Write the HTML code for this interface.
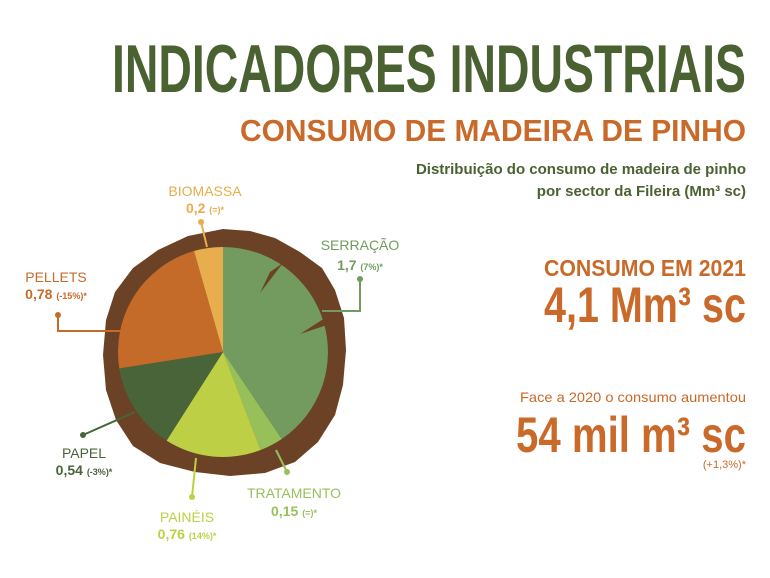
<!DOCTYPE html>
<html><head><meta charset="utf-8"><style>html,body{margin:0;padding:0;background:#fff}svg{display:block}</style></head>
<body>
<svg width="770" height="578" viewBox="0 0 770 578" xmlns="http://www.w3.org/2000/svg" font-family="Liberation Sans, sans-serif">
<rect width="770" height="578" fill="#fff"/>
<text x="746" y="92" text-anchor="end" font-size="68" font-weight="bold" fill="#4a6131" textLength="634" lengthAdjust="spacingAndGlyphs">INDICADORES INDUSTRIAIS</text>
<text x="746" y="141" text-anchor="end" font-size="31" font-weight="bold" fill="#c9692a" textLength="506" lengthAdjust="spacingAndGlyphs">CONSUMO DE MADEIRA DE PINHO</text>
<text x="746" y="174" text-anchor="end" font-size="15" font-weight="bold" fill="#4a6131">Distribuição do consumo de madeira de pinho</text>
<text x="746" y="196" text-anchor="end" font-size="15" font-weight="bold" fill="#4a6131">por sector da Fileira (Mm³ sc)</text>
<text x="746" y="276" text-anchor="end" font-size="23" font-weight="bold" fill="#c9692a" textLength="202" lengthAdjust="spacingAndGlyphs">CONSUMO EM 2021</text>
<text x="746" y="322" text-anchor="end" font-size="50" font-weight="bold" fill="#c9692a" textLength="202" lengthAdjust="spacingAndGlyphs">4,1 Mm³ sc</text>
<text x="746" y="402" text-anchor="end" font-size="14" fill="#c9692a" textLength="226" lengthAdjust="spacingAndGlyphs">Face a 2020 o consumo aumentou</text>
<text x="746" y="452" text-anchor="end" font-size="50" font-weight="bold" fill="#c9692a" textLength="230" lengthAdjust="spacingAndGlyphs">54 mil m³ sc</text>
<text x="746" y="468" text-anchor="end" font-size="11" fill="#c9692a">(+1,3%)*</text>

<!-- bark -->
<path d="M223 229 L250 231 L275 238 L300 252 L322 268 L335 290 L344 318 L346 350 L343 385 L335 415 L318 442 L295 462 L265 473 L230 476 L195 472 L160 463 L133 446 L116 420 L106 390 L103 355 L106 320 L115 292 L133 268 L158 250 L188 236 Z" fill="#6b4226"/>
<g transform="translate(223,352)">
<path d="M0 0 L0 -105 A105 105 0 0 1 58.7 87 Z" fill="#749b5f"/>
<path d="M0 0 L58.7 87 A105 105 0 0 1 37.6 98 Z" fill="#98c05a"/>
<path d="M0 0 L37.6 98 A105 105 0 0 1 -56.4 88.6 Z" fill="#bdd045"/>
<path d="M0 0 L-56.4 88.6 A105 105 0 0 1 -103.7 16.4 Z" fill="#4a643a"/>
<path d="M0 0 L-103.7 16.4 A105 105 0 0 1 -29 -101 Z" fill="#c56b2a"/>
<path d="M0 0 L-29 -101 A105 105 0 0 1 0 -105 Z" fill="#e8ad4c"/>
</g>
<path d="M283 263 L260 293 L270 272 Z" fill="#6b4226"/>
<path d="M330 324 L300 334 L325 318 Z" fill="#6b4226"/>

<g font-size="14" text-anchor="middle">
<text x="205" y="196" fill="#e8ad4c">BIOMASSA</text>
<text x="205" y="213" fill="#e8ad4c" font-weight="bold">0,2 <tspan font-size="9">(=)*</tspan></text>
<text x="360" y="250" fill="#749b5f">SERRAÇÃO</text>
<text x="360" y="270" fill="#749b5f" font-weight="bold">1,7 <tspan font-size="9">(7%)*</tspan></text>
<text x="56" y="282" fill="#c56b2a">PELLETS</text>
<text x="56" y="299" fill="#c56b2a" font-weight="bold">0,78 <tspan font-size="9">(-15%)*</tspan></text>
<text x="84" y="458" fill="#4a643a">PAPEL</text>
<text x="84" y="475" fill="#4a643a" font-weight="bold">0,54 <tspan font-size="9">(-3%)*</tspan></text>
<text x="187" y="522" fill="#bdd045">PAINÉIS</text>
<text x="187" y="539" fill="#bdd045" font-weight="bold">0,76 <tspan font-size="9">(14%)*</tspan></text>
<text x="294" y="498" fill="#98c05a">TRATAMENTO</text>
<text x="294" y="516" fill="#98c05a" font-weight="bold">0,15 <tspan font-size="9">(=)*</tspan></text>
</g>
<g stroke-width="2" fill="none">
<polyline points="201,222 207,247" stroke="#e8ad4c"/>
<polyline points="360,279 360,311 322,311" stroke="#749b5f"/>
<polyline points="58,315 58,331 124,331" stroke="#c56b2a"/>
<polyline points="83,435 135,412" stroke="#4a643a"/>
<polyline points="192,497 196,458" stroke="#bdd045"/>
<polyline points="287,472 276,450" stroke="#98c05a"/>
</g>
<circle cx="201" cy="222" r="3" fill="#e8ad4c"/>
<circle cx="360" cy="279" r="3" fill="#749b5f"/>
<circle cx="58" cy="315" r="3" fill="#c56b2a"/>
<circle cx="83" cy="435" r="3" fill="#4a643a"/>
<circle cx="192" cy="497" r="3" fill="#bdd045"/>
<circle cx="287" cy="472" r="3" fill="#98c05a"/>
</svg>
</body></html>
